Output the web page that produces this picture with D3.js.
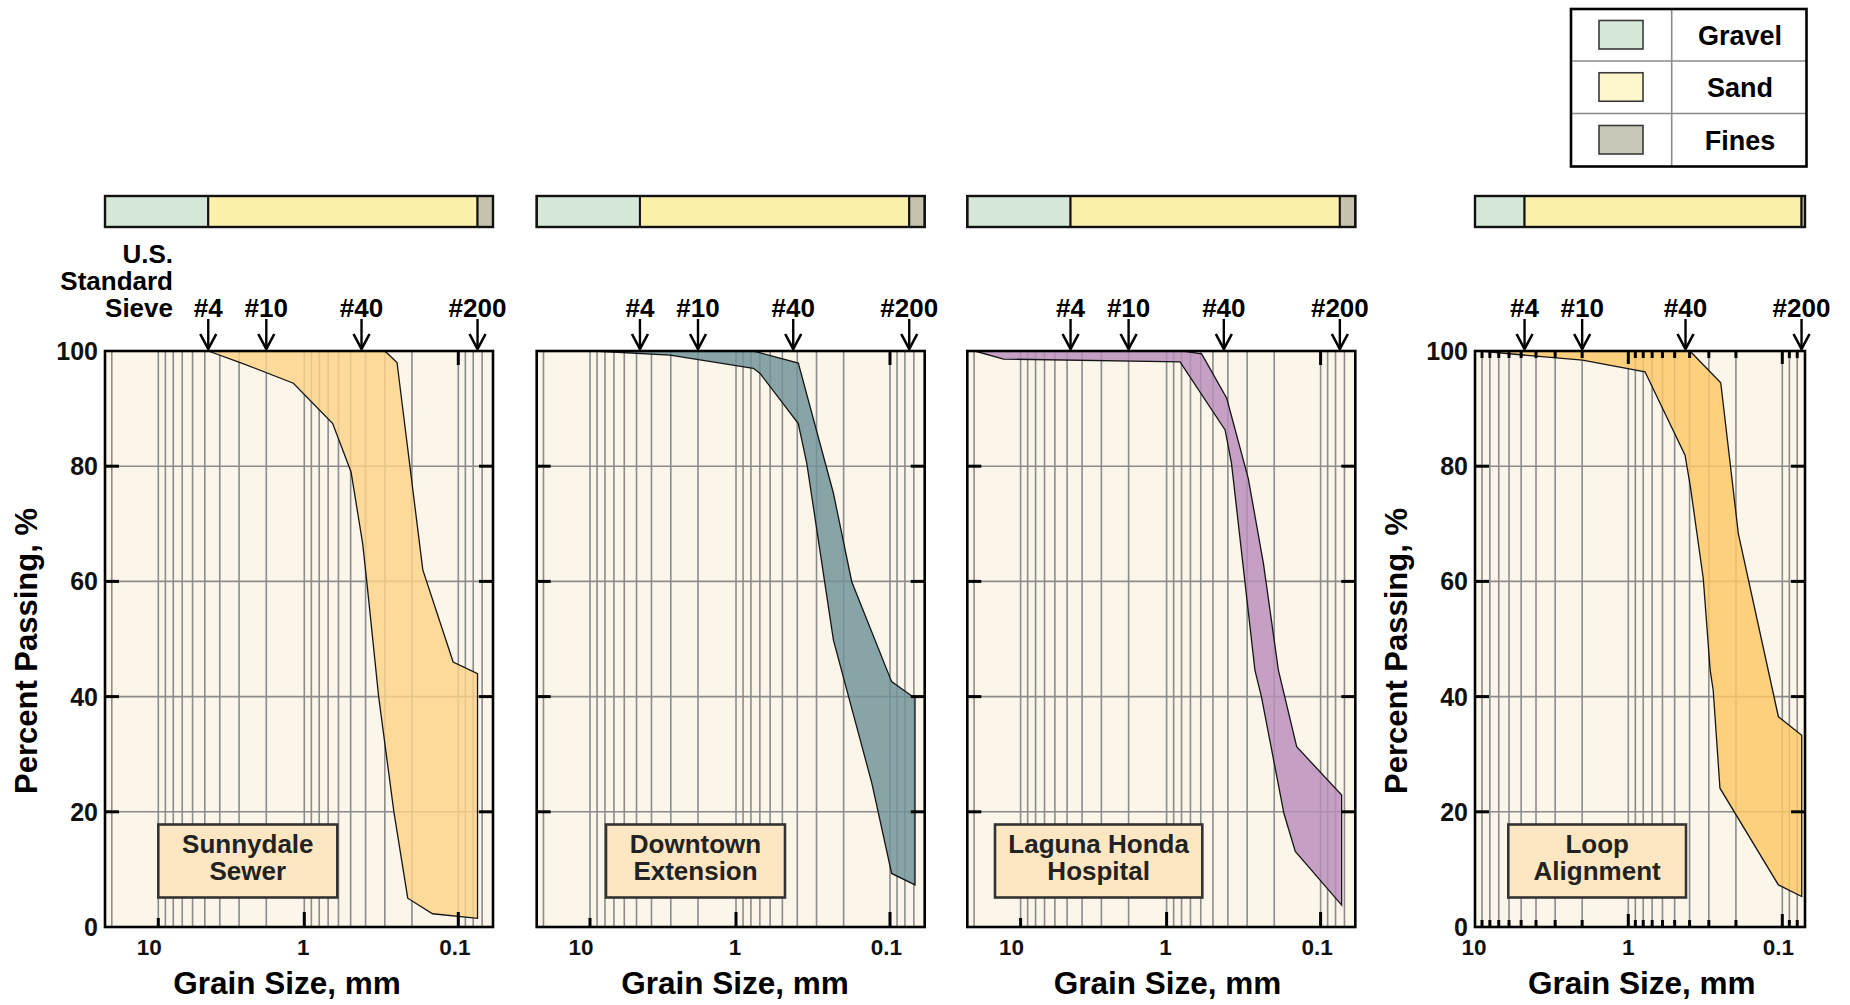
<!DOCTYPE html>
<html>
<head>
<meta charset="utf-8">
<script src="https://cdn.jsdelivr.net/npm/d3@7"></script>
<style>
  html, body { margin: 0; padding: 0; background: #ffffff; }
  svg { display: block; font-family: "Liberation Sans", Arial, Helvetica, sans-serif; font-weight: bold; }
</style>
</head>
<body>
<svg id="chart" width="1850" height="1005"></svg>
<script>
// ---- Data ---------------------------------------------------------------

// U.S. standard sieves marked above each plot (opening in mm)
const sieveLabels = ["#4", "#10", "#40", "#200"];
const sieveSizes = [4.75, 2.0, 0.425, 0.075];

// Axis ticks
const percentTicks = [0, 20, 40, 60, 80, 100];
const sizeTicks = [10, 1, 0.1];
const sizeTickLabels = ["10", "1", "0.1"];

// Site names (two lines each)
const siteNames = [
  ["Sunnydale", "Sewer"],
  ["Downtown", "Extension"],
  ["Laguna Honda", "Hospital"],
  ["Loop", "Alignment"]
];

const soilClasses = ["Gravel", "Sand", "Fines"];

// Gradation envelopes: finer bound (upper curve) and coarser bound (lower curve)
// grain size in mm, percent passing by weight
const sunnydaleFineSize   = [4.75, 0.30, 0.25, 0.17, 0.108, 0.075];
const sunnydaleFinePct    = [100, 100, 98, 62, 46, 44];
const sunnydaleCoarseSize = [4.75, 2.95, 1.22, 0.654, 0.497, 0.418, 0.393, 0.329, 0.262, 0.213, 0.147, 0.075];
const sunnydaleCoarsePct  = [100, 98, 94.4, 87.4, 79, 66.6, 60, 40, 20, 5, 2.3, 1.5];

const downtownFineSize   = [9.5, 0.772, 0.394, 0.233, 0.177, 0.0976, 0.0688];
const downtownFinePct    = [100, 100, 97.9, 75.3, 59.9, 42.6, 39.7];
const downtownCoarseSize = [9.5, 3.03, 0.772, 0.698, 0.394, 0.347, 0.233, 0.131, 0.0976, 0.0688];
const downtownCoarsePct  = [100, 99.3, 97, 96.1, 87.4, 80.5, 49.8, 24.9, 9.3, 7.3];

const lagunaFineSize   = [19.8, 0.78, 0.592, 0.407, 0.295, 0.235, 0.188, 0.143, 0.073];
const lagunaFinePct    = [100, 100, 99.5, 91.8, 77.9, 63.1, 44.6, 31.3, 22.9];
const lagunaCoarseSize = [19.8, 12.9, 0.818, 0.417, 0.379, 0.267, 0.242, 0.173, 0.146, 0.073];
const lagunaCoarsePct  = [100, 98.6, 98.1, 86.3, 80.5, 44.6, 39.9, 19.7, 13.1, 3.8];

const loopFineSize   = [9.3, 0.398, 0.251, 0.193, 0.106, 0.0748];
const loopFinePct    = [100, 100, 94.5, 68.3, 36.5, 33.3];
const loopCoarseSize = [9.3, 3.99, 1.99, 0.779, 0.428, 0.395, 0.326, 0.294, 0.281, 0.254, 0.106, 0.0748];
const loopCoarsePct  = [100, 99.1, 98.4, 96.4, 81.9, 76.4, 60.5, 44.6, 41.1, 24.1, 7.3, 5.3];

// ---- Layout & style -----------------------------------------------------

const svg = d3.select("#chart");
const plotTop = 351, plotBottom = 927;
const barTop = 196, barHeight = 31;

const classColors = ["#d5e7d6", "#fcf1aa", "#c5c3ae"];
const legendColors = ["#d6e8d8", "#fef6cd", "#c9c8b8"];

const panels = [
  { left: 105, width: 388, domain: [10, 2, 1, 0.1], offsets: [53.3, 161.3, 199.3, 353.3],
    fine: [sunnydaleFineSize, sunnydaleFinePct], coarse: [sunnydaleCoarseSize, sunnydaleCoarsePct],
    fill: "#fdd389", yLabels: true, minorTicks: false, box: [158.3, 337.3], titleX: 287,
    labelDx: [-9, -1, -3.5], sieveCaption: true },
  { left: 536.7, width: 388, domain: [10, 2, 1, 0.1], offsets: [53.3, 161.3, 199.3, 353.3],
    fine: [downtownFineSize, downtownFinePct], coarse: [downtownCoarseSize, downtownCoarsePct],
    fill: "#6f9399", yLabels: false, minorTicks: false, box: [606, 785], titleX: 735,
    labelDx: [-9, -1, -3.5] },
  { left: 967.3, width: 388, domain: [10, 2, 1, 0.1], offsets: [53.3, 161.3, 199.3, 353.3],
    fine: [lagunaFineSize, lagunaFinePct], coarse: [lagunaCoarseSize, lagunaCoarsePct],
    fill: "#b88dbc", yLabels: false, minorTicks: false, box: [995, 1202.3], titleX: 1167.5,
    labelDx: [-9, -1, -3.5] },
  { left: 1475, width: 330, domain: [10, 1, 0.1], offsets: [0, 153.3, 307.3],
    fine: [loopFineSize, loopFinePct], coarse: [loopCoarseSize, loopCoarsePct],
    fill: "#fcc866", yLabels: true, minorTicks: true, box: [1508.3, 1686], titleX: 1641.7,
    labelDx: [-1, 0, -4] }
];

const y = d3.scaleLinear().domain([0, 100]).range([plotBottom, plotTop]);

// candidate grid values: 1..9 x 10^k
const gridCandidates = [];
[-2, -1, 0, 1].forEach(k => {
  for (let m = 1; m <= 9; m++) gridCandidates.push(+(m * Math.pow(10, k)).toPrecision(3));
});

panels.forEach((p, i) => {
  const right = p.left + p.width;
  const x = d3.scaleLog().domain(p.domain).range(p.offsets.map(o => p.left + o));
  const g = svg.append("g");

  // composition bar: gravel | sand | fines split at #4 and #200 sieves
  const edges = [p.left, x(sieveSizes[0]), x(sieveSizes[3]), right];
  g.selectAll("rect.cls").data(soilClasses).join("rect")
    .attr("x", (d, j) => edges[j])
    .attr("y", barTop)
    .attr("width", (d, j) => Math.max(0, edges[j + 1] - edges[j]))
    .attr("height", barHeight)
    .attr("fill", (d, j) => classColors[j])
    .attr("stroke", "#111").attr("stroke-width", 2);
  g.append("rect").attr("x", p.left).attr("y", barTop).attr("width", p.width).attr("height", barHeight)
    .attr("fill", "none").attr("stroke", "#111").attr("stroke-width", 2.4);

  // plot background
  g.append("rect").attr("x", p.left).attr("y", plotTop).attr("width", p.width)
    .attr("height", plotBottom - plotTop).attr("fill", "#fbf5ea");

  // vertical grid
  const gridVals = gridCandidates.filter(v => x(v) > p.left + 2 && x(v) < right - 2);
  g.selectAll("line.vg").data(gridVals).join("line")
    .attr("x1", d => x(d)).attr("x2", d => x(d))
    .attr("y1", plotTop).attr("y2", plotBottom)
    .attr("stroke", "#8c8c8c").attr("stroke-width", 1.6);
  // horizontal grid
  g.selectAll("line.hg").data(percentTicks.filter(v => v > 0 && v < 100)).join("line")
    .attr("x1", p.left).attr("x2", right)
    .attr("y1", d => y(d)).attr("y2", d => y(d))
    .attr("stroke", "#8c8c8c").attr("stroke-width", 1.6);

  // gradation envelope
  const upper = p.fine[0].map((s, j) => [s, p.fine[1][j]]);
  const lower = p.coarse[0].map((s, j) => [s, p.coarse[1][j]]).reverse();
  const line = d3.line().x(d => x(d[0])).y(d => y(d[1]));
  g.append("path").attr("d", line(upper.concat(lower)) + "Z")
    .attr("fill", p.fill).attr("fill-opacity", 0.82)
    .attr("stroke", "#151515").attr("stroke-width", 1.3).attr("stroke-linejoin", "miter");

  // y ticks, inward on both sides
  const yt = percentTicks.filter(v => v > 0 && v < 100);
  g.selectAll("line.ytl").data(yt).join("line")
    .attr("x1", p.left).attr("x2", p.left + 14).attr("y1", d => y(d)).attr("y2", d => y(d))
    .attr("stroke", "#000").attr("stroke-width", 3);
  g.selectAll("line.ytr").data(yt).join("line")
    .attr("x1", right - 14).attr("x2", right).attr("y1", d => y(d)).attr("y2", d => y(d))
    .attr("stroke", "#000").attr("stroke-width", 3);

  // x ticks
  if (p.minorTicks) {
    const minor = gridVals.filter(v => sizeTicks.indexOf(v) < 0);
    [plotTop, plotBottom].forEach((yy, side) => {
      const dir = side === 0 ? 1 : -1;
      g.selectAll("line.mt" + side).data(minor).join("line")
        .attr("x1", d => x(d)).attr("x2", d => x(d))
        .attr("y1", yy).attr("y2", yy + dir * 7)
        .attr("stroke", "#000").attr("stroke-width", 3);
      g.selectAll("line.Mt" + side).data(sizeTicks.filter(v => x(v) > p.left + 2)).join("line")
        .attr("x1", d => x(d)).attr("x2", d => x(d))
        .attr("y1", yy).attr("y2", yy + dir * 13)
        .attr("stroke", "#000").attr("stroke-width", 3);
    });
  } else {
    g.selectAll("line.bt").data(sizeTicks).join("line")
      .attr("x1", d => x(d)).attr("x2", d => x(d))
      .attr("y1", plotBottom).attr("y2", d => plotBottom - (d === 10 ? 9 : 15))
      .attr("stroke", "#000").attr("stroke-width", 3);
    g.append("line")
      .attr("x1", x(0.1)).attr("x2", x(0.1))
      .attr("y1", plotTop).attr("y2", plotTop + 14)
      .attr("stroke", "#000").attr("stroke-width", 3);
  }

  // plot frame
  g.append("rect").attr("x", p.left).attr("y", plotTop).attr("width", p.width)
    .attr("height", plotBottom - plotTop).attr("fill", "none")
    .attr("stroke", "#000").attr("stroke-width", 2.6);

  // x tick labels
  g.selectAll("text.xl").data(sizeTicks).join("text")
    .attr("x", (d, j) => x(d) + p.labelDx[j]).attr("y", 955)
    .attr("text-anchor", "middle").attr("font-size", 22.5).attr("fill", "#111")
    .text((d, j) => sizeTickLabels[j]);

  // x title
  g.append("text").attr("x", p.titleX).attr("y", 994)
    .attr("text-anchor", "middle").attr("font-size", 31.5).attr("fill", "#000")
    .text("Grain Size, mm");

  // y tick labels + title
  if (p.yLabels) {
    g.selectAll("text.yl").data(percentTicks).join("text")
      .attr("x", p.left - 7).attr("y", d => y(d)).attr("dy", "0.36em")
      .attr("text-anchor", "end").attr("font-size", 25).attr("fill", "#111")
      .text(d => d);
    const tx = p.left - 68;
    g.append("text")
      .attr("transform", `translate(${tx},${(plotTop + plotBottom) / 2 + 12}) rotate(-90)`)
      .attr("text-anchor", "middle").attr("font-size", 31).attr("fill", "#000")
      .text("Percent Passing, %");
  }

  // sieve markers
  const sg = g.selectAll("g.sieve").data(sieveSizes).join("g")
    .attr("transform", d => `translate(${x(d)},0)`);
  sg.append("text").attr("x", 0).attr("y", 317)
    .attr("text-anchor", "middle").attr("font-size", 26).attr("fill", "#000")
    .text((d, j) => sieveLabels[j]);
  sg.append("line").attr("x1", 0).attr("x2", 0).attr("y1", 319).attr("y2", plotTop - 2)
    .attr("stroke", "#000").attr("stroke-width", 2.4);
  sg.append("path").attr("d", `M-8,${plotTop - 17}L0,${plotTop - 2}L8,${plotTop - 17}`)
    .attr("fill", "none").attr("stroke", "#000").attr("stroke-width", 2.6);

  if (p.sieveCaption) {
    ["U.S.", "Standard", "Sieve"].forEach((t, j) => {
      g.append("text").attr("x", 173).attr("y", 263 + j * 27)
        .attr("text-anchor", "end").attr("font-size", 26).attr("fill", "#000").text(t);
    });
  }

  // site label box
  const bx0 = p.box[0], bx1 = p.box[1];
  g.append("rect").attr("x", bx0).attr("y", 824.5).attr("width", bx1 - bx0).attr("height", 73)
    .attr("fill", "#fde7c3").attr("stroke", "#333").attr("stroke-width", 2.6);
  siteNames[i].forEach((t, j) => {
    g.append("text").attr("x", (bx0 + bx1) / 2).attr("y", 853 + j * 27)
      .attr("text-anchor", "middle").attr("font-size", 26).attr("fill", "#222").text(t);
  });
});

// ---- Legend -------------------------------------------------------------
const lg = svg.append("g");
const lx0 = 1571, lx1 = 1806.5, ly0 = 9, ly1 = 166.5, lmid = 1671.7;
const rowEdges = [ly0, 61, 113.5, ly1];
lg.append("rect").attr("x", lx0).attr("y", ly0).attr("width", lx1 - lx0).attr("height", ly1 - ly0)
  .attr("fill", "#fff");
[61, 113.5].forEach(yy => lg.append("line").attr("x1", lx0).attr("x2", lx1).attr("y1", yy).attr("y2", yy)
  .attr("stroke", "#8a8a8a").attr("stroke-width", 1.6));
lg.append("line").attr("x1", lmid).attr("x2", lmid).attr("y1", ly0).attr("y2", ly1)
  .attr("stroke", "#8a8a8a").attr("stroke-width", 1.6);
soilClasses.forEach((c, j) => {
  const cy = (rowEdges[j] + rowEdges[j + 1]) / 2;
  lg.append("rect").attr("x", 1599).attr("y", cy - 14.5).attr("width", 44).attr("height", 28.5)
    .attr("fill", legendColors[j]).attr("stroke", "#3a3a3a").attr("stroke-width", 1.6);
  lg.append("text").attr("x", 1740).attr("y", cy + 10)
    .attr("text-anchor", "middle").attr("font-size", 27).attr("fill", "#000").text(c);
});
lg.append("rect").attr("x", lx0).attr("y", ly0).attr("width", lx1 - lx0).attr("height", ly1 - ly0)
  .attr("fill", "none").attr("stroke", "#000").attr("stroke-width", 2.6);
</script>
</body>
</html>
